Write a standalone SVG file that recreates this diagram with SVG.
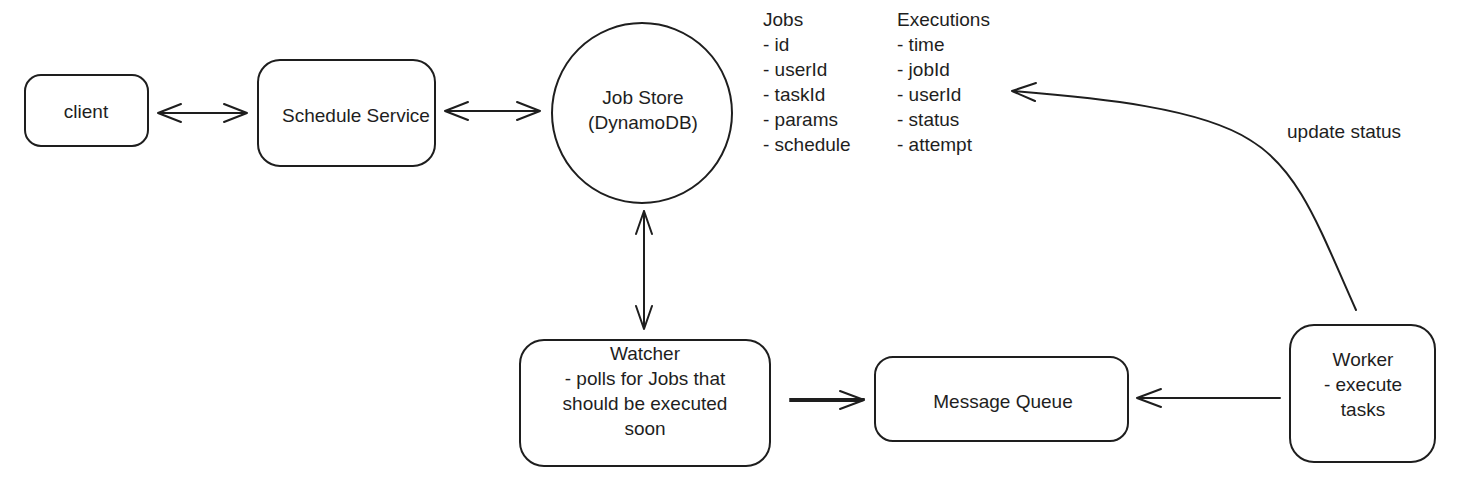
<svg xmlns="http://www.w3.org/2000/svg" width="1459" height="492" viewBox="0 0 1459 492">
<style>
.box{fill:none;stroke:#1e1e1e;stroke-width:2;}
.t{font-family:"Liberation Sans",Arial,sans-serif;font-size:19px;fill:#1e1e1e;}
.c{text-anchor:middle;}
.ln{fill:none;stroke:#1e1e1e;stroke-width:2;stroke-linecap:round;stroke-linejoin:round;}
</style>
<rect width="1459" height="492" fill="#ffffff"/>
<g id="client">
<rect class="box" x="25" y="75" width="123" height="71" rx="16"/>
<text class="t c" x="86" y="118">client</text>
</g>
<g id="schedule-service">
<rect class="box" x="258" y="60" width="177" height="106" rx="22"/>
<text class="t c" x="356" y="122">Schedule Service</text>
</g>
<g id="job-store">
<circle class="box" cx="642" cy="113" r="90"/>
<text class="t c" x="643" y="104">Job Store</text>
<text class="t c" x="643" y="129">(DynamoDB)</text>
</g>
<g id="schema">
<text class="t" x="763" y="26">Jobs</text>
<text class="t" x="763" y="51">- id</text>
<text class="t" x="763" y="76">- userId</text>
<text class="t" x="763" y="101">- taskId</text>
<text class="t" x="763" y="126">- params</text>
<text class="t" x="763" y="151">- schedule</text>
<text class="t" x="897" y="26">Executions</text>
<text class="t" x="897" y="51">- time</text>
<text class="t" x="897" y="76">- jobId</text>
<text class="t" x="897" y="101">- userId</text>
<text class="t" x="897" y="126">- status</text>
<text class="t" x="897" y="151">- attempt</text>
</g>
<g id="watcher">
<rect class="box" x="520" y="340" width="250" height="126" rx="24"/>
<text class="t c" x="645" y="360">Watcher</text>
<text class="t c" x="645" y="385">- polls for Jobs that</text>
<text class="t c" x="645" y="410">should be executed</text>
<text class="t c" x="645" y="435">soon</text>
</g>
<g id="message-queue">
<rect class="box" x="875" y="357" width="253" height="84" rx="18"/>
<text class="t c" x="1003" y="408">Message Queue</text>
</g>
<g id="worker">
<rect class="box" x="1290" y="325" width="145" height="137" rx="24"/>
<text class="t c" x="1363" y="366">Worker</text>
<text class="t c" x="1363" y="391">- execute</text>
<text class="t c" x="1363" y="416">tasks</text>
</g>
<g id="connectors">
<path class="ln" d="M158,113 L247,113 M158,113 L181,104 M158,113 L181,122 M247,113 L224,104 M247,113 L224,122"/>
<path class="ln" d="M445,111 L540,111 M445,111 L468,102 M445,111 L468,120 M540,111 L517,102 M540,111 L517,120"/>
<path class="ln" d="M644,211 L644,329 M644,211 L636,234 M644,211 L652,234 M644,329 L636,306 M644,329 L652,306"/>
<path class="ln" d="M790,399 L864,399 M790,401 L862,401 M864,400 L840,391 M864,400 L840,409"/>
<path class="ln" d="M1280,398 L1137,398 M1137,398 L1161,389 M1137,398 L1161,407"/>
<path class="ln" d="M1356,310 C1320,230 1300,170 1250,140 C1200,108 1100,98 1012,91 M1012,91 L1036,83 M1012,91 L1035,101"/>
<text class="t" x="1287" y="138">update status</text>
</g>
</svg>
